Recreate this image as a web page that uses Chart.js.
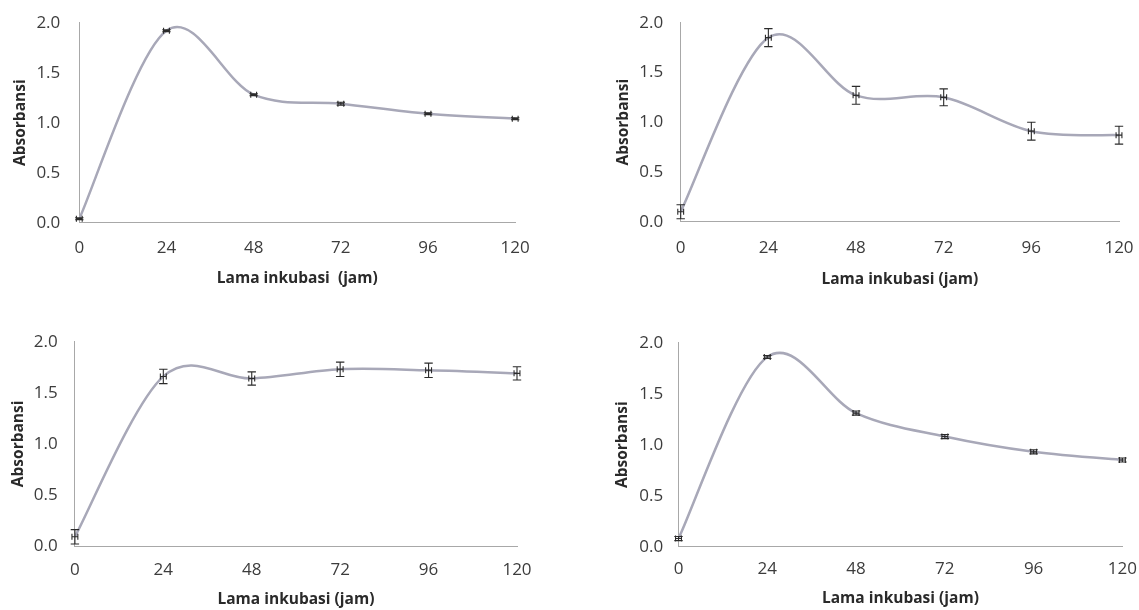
<!DOCTYPE html>
<html>
<head>
<meta charset="utf-8">
<script src="https://cdn.jsdelivr.net/npm/chart.js@4.4.1/dist/chart.umd.min.js"></script>
<style>
  html, body { margin: 0; padding: 0; background: #ffffff; }
  body { width: 1139px; height: 610px; position: relative; overflow: hidden; }
  .pane { position: absolute; }
</style>
</head>
<body>
<div class="pane" style="left:0px;top:0px;width:570px;height:305px"><canvas id="c1"></canvas></div>
<div class="pane" style="left:570px;top:0px;width:569px;height:305px"><canvas id="c2"></canvas></div>
<div class="pane" style="left:0px;top:305px;width:570px;height:305px"><canvas id="c3"></canvas></div>
<div class="pane" style="left:570px;top:305px;width:569px;height:305px"><canvas id="c4"></canvas></div>
<script>
// ---------- DATA ----------
const hours = [0, 24, 48, 72, 96, 120];
const xTicks = [0, 24, 48, 72, 96, 120];
const yTicks = [0.0, 0.5, 1.0, 1.5, 2.0];

const absA = [0.04, 1.92, 1.28, 1.19, 1.09, 1.04];
const errA = [0.01, 0.01, 0.01, 0.015, 0.01, 0.01];

const absB = [0.10, 1.85, 1.27, 1.25, 0.91, 0.87];
const errB = [0.07, 0.09, 0.09, 0.085, 0.09, 0.09];

const absC = [0.09, 1.66, 1.64, 1.73, 1.72, 1.69];
const errC = [0.07, 0.07, 0.065, 0.07, 0.07, 0.065];

const absD = [0.08, 1.86, 1.31, 1.08, 0.93, 0.85];
const errD = [0.02, 0.015, 0.02, 0.02, 0.02, 0.02];

const xErrHours = [0.8, 0.8, 0.8, 0.8, 0.8, 0.8];

const yTitle = 'Absorbansi';
const xTitles = ['Lama inkubasi  (jam)', 'Lama inkubasi (jam)', 'Lama inkubasi (jam)', 'Lama inkubasi (jam)'];

// ---------- LAYOUT (per panel, px) ----------
const panels = [
  { id: 'c1', y: absA, e: errA, axisW: 79.3, padTop: 22.7, padRight: 54.8, axisH: 82.3,
    yTickPad: 19, yTitlePad: 11.5, xTickPad: 15.1, xTitlePad: 17.4, xTitle: xTitles[0] },
  { id: 'c2', y: absB, e: errB, axisW: 110.7, padTop: 22.7, padRight: 20, axisH: 83.3,
    yTickPad: 17.5, yTitlePad: 44.7, xTickPad: 16.1, xTitlePad: 15.7, xTitle: xTitles[1] },
  { id: 'c3', y: absC, e: errC, axisW: 74.9, padTop: 36.7, padRight: 53, axisH: 64,
    yTickPad: 17.2, yTitlePad: 9, xTickPad: 13.8, xTitlePad: 1.4, xTitle: xTitles[2] },
  { id: 'c4', y: absD, e: errD, axisW: 108.5, padTop: 37.7, padRight: 16.6, axisH: 63.3,
    yTickPad: 15.3, yTitlePad: 43.7, xTickPad: 12.1, xTitlePad: 2.4, xTitle: xTitles[3] }
];

const FONT = "'Open Sans', 'Noto Sans', sans-serif";
const TICK_COLOR = '#3c3c3c';
const TITLE_COLOR = '#2a2a2a';

// Excel-style smoothing: uniform Catmull-Rom control points from the points' scale pixels
const excelSmooth = {
  id: 'excelSmooth',
  beforeDatasetsDraw(chart) {
    chart.data.datasets.forEach((ds, di) => {
      const meta = chart.getDatasetMeta(di);
      const pts = meta.data;
      const n = pts.length;
      for (let i = 0; i < n; i++) {
        const p = pts[i];
        const prev = pts[Math.max(i - 1, 0)];
        const next = pts[Math.min(i + 1, n - 1)];
        const dx = (next.x - prev.x) / 6, dy = (next.y - prev.y) / 6;
        p.cp1x = p.x - dx; p.cp1y = p.y - dy;
        p.cp2x = p.x + dx; p.cp2y = p.y + dy;
      }
      if (meta.dataset) { meta.dataset._pointsUpdated = true; meta.dataset._path = undefined; }
    });
  }
};

const errorBars = {
  id: 'errorBars',
  afterDatasetsDraw(chart, args, opts) {
    const ctx = chart.ctx;
    const xs = chart.scales.x, ys = chart.scales.y;
    const ds = chart.data.datasets[0];
    const yErr = opts.yErr, xErr = opts.xErr;
    ctx.save();
    ctx.strokeStyle = '#2b2b2b';
    ctx.lineWidth = 1.1;
    const capW = 4.2, capH = 3.0;
    ds.data.forEach((p, i) => {
      const px = xs.getPixelForValue(p.x);
      const py = ys.getPixelForValue(p.y);
      const yTop = ys.getPixelForValue(p.y + yErr[i]);
      const yBot = ys.getPixelForValue(p.y - yErr[i]);
      ctx.beginPath();
      ctx.moveTo(px, yTop); ctx.lineTo(px, yBot);
      ctx.moveTo(px - capW, yTop); ctx.lineTo(px + capW, yTop);
      ctx.moveTo(px - capW, yBot); ctx.lineTo(px + capW, yBot);
      const xL = xs.getPixelForValue(p.x - xErr[i]);
      const xR = xs.getPixelForValue(p.x + xErr[i]);
      ctx.moveTo(xL, py); ctx.lineTo(xR, py);
      ctx.moveTo(xL, py - capH); ctx.lineTo(xL, py + capH);
      ctx.moveTo(xR, py - capH); ctx.lineTo(xR, py + capH);
      ctx.stroke();
    });
    ctx.restore();
  }
};

panels.forEach((pn) => {
  const pts = hours.map((h, i) => ({ x: h, y: pn.y[i] }));
  new Chart(document.getElementById(pn.id), {
    type: 'line',
    data: {
      datasets: [{
        data: pts,
        borderColor: 'rgb(168,168,184)',
        borderWidth: 2.5,
        pointRadius: 0,
        pointHoverRadius: 0,
        tension: 0.4,
        fill: false
      }]
    },
    plugins: [excelSmooth, errorBars],
    options: {
      responsive: true,
      maintainAspectRatio: false,
      animation: false,
      events: [],
      layout: { padding: { left: 0, top: pn.padTop, right: pn.padRight, bottom: 0 } },
      plugins: {
        legend: { display: false },
        tooltip: { enabled: false },
        errorBars: { yErr: pn.e, xErr: xErrHours }
      },
      scales: {
        x: {
          type: 'linear',
          min: xTicks[0], max: xTicks[xTicks.length - 1],
          afterBuildTicks: (s) => { s.ticks = xTicks.map(v => ({ value: v })); },
          afterFit: (s) => { s.height = pn.axisH; s.paddingLeft = 0; s.paddingRight = 0; s.paddingTop = 0; s.paddingBottom = 0; },
          grid: { display: false, drawTicks: false },
          border: { display: true, color: '#a8a8a8', width: 1, dash: [1, 1] },
          ticks: { color: TICK_COLOR, font: { family: FONT, size: 17 }, padding: pn.xTickPad, maxRotation: 0,
                   callback: (v) => String(v) },
          title: { display: true, text: pn.xTitle, color: TITLE_COLOR,
                   font: { family: FONT, size: 15.5, weight: 'bold', lineHeight: 1.2 },
                   padding: { top: 0, bottom: pn.xTitlePad } }
        },
        y: {
          type: 'linear',
          min: yTicks[0], max: yTicks[yTicks.length - 1],
          afterBuildTicks: (s) => { s.ticks = yTicks.map(v => ({ value: v })); },
          afterFit: (s) => { s.width = pn.axisW; s.paddingLeft = 0; s.paddingRight = 0; s.paddingTop = 0; s.paddingBottom = 0; },
          grid: { display: false, drawTicks: false },
          border: { display: true, color: '#a8a8a8', width: 1, dash: [1, 1] },
          ticks: { color: TICK_COLOR, font: { family: FONT, size: 17 }, padding: pn.yTickPad,
                   callback: (v) => Number(v).toFixed(1) },
          title: { display: true, text: yTitle, color: TITLE_COLOR,
                   font: { family: FONT, size: 15.5, weight: 'bold', lineHeight: 1.2 },
                   padding: { top: pn.yTitlePad, bottom: 0 } }
        }
      }
    }
  });
});
</script>
</body>
</html>
